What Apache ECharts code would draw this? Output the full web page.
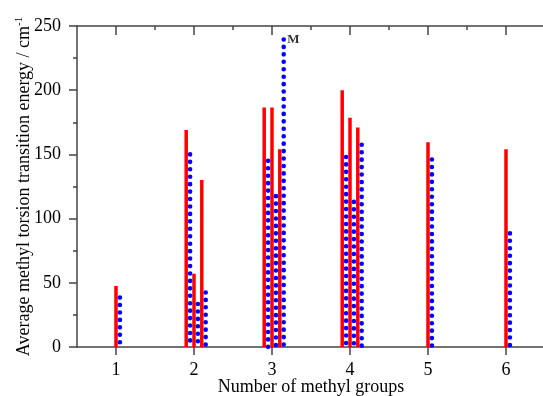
<!DOCTYPE html>
<html>
<head>
<meta charset="utf-8">
<script src="https://cdn.jsdelivr.net/npm/echarts@6/dist/echarts.min.js"></script>
<style>
  html, body { margin: 0; padding: 0; background: #fff; }
  #chart { width: 543px; height: 396px; }
</style>
</head>
<body>
<div id="chart"></div>
<script>
// red = solid sticks, blue = dotted sticks
const redX = [1.0, 1.9, 2.0, 2.1, 2.9, 3.0, 3.1, 3.9, 4.0, 4.1, 5.0, 6.0];
const redY = [47.5, 169, 57, 130, 186.5, 186.5, 154, 200, 178.5, 171, 159.5, 154];
const blueX = [1.05, 1.95, 2.05, 2.15, 2.95, 3.05, 3.15, 3.95, 4.05, 4.15, 5.05, 6.05];
const blueY = [38.5, 150, 33.5, 42.5, 145, 117.5, 239.5, 148, 113, 157.5, 146, 88.5];
const markedIdx = 6; // blue stick labelled "M"
const xTicks = [1, 2, 3, 4, 5, 6];
const xHalfTicks = [1.5, 2.5, 3.5, 4.5, 5.5, 6.5];

const font = 'Liberation Serif';
const axisColor = '#444';

const chart = echarts.init(document.getElementById('chart'));

const series = [];
redX.forEach((x, i) => {
  series.push({
    type: 'line',
    data: [[x, 0], [x, redY[i]]],
    symbol: 'none',
    silent: true,
    lineStyle: { color: '#ff0000', width: 3.5 }
  });
});
blueX.forEach((x, i) => {
  series.push({
    type: 'line',
    data: [[x, blueY[i]], [x, 0]],
    symbol: 'none',
    silent: true,
    lineStyle: { color: '#0000ff', width: 4.6, type: [0.01, 7.43], cap: 'round' }
  });
});
series.push({
  type: 'scatter',
  data: [[blueX[markedIdx], blueY[markedIdx]]],
  symbolSize: 1,
  itemStyle: { color: 'rgba(0,0,0,0)' },
  silent: true,
  label: {
    show: true,
    formatter: 'M',
    position: 'right',
    distance: 3,
    color: '#000',
    fontFamily: font,
    fontWeight: 'bold',
    fontSize: 13
  }
});

const option = {
  animation: false,
  backgroundColor: '#fff',
  grid: { left: 77, right: -2, top: 26, bottom: 49, containLabel: false, outerBoundsMode: 'none' },
  xAxis: [
    {
      type: 'value',
      min: 0.5,
      max: 6.5,
      position: 'bottom',
      name: 'Number of methyl groups',
      nameLocation: 'middle',
      nameGap: 31,
      nameMoveOverlap: false,
      nameTextStyle: { fontFamily: font, fontSize: 18, color: '#000' },
      axisLine: { show: true, lineStyle: { color: axisColor, width: 1.5 } },
      axisTick: { show: true, inside: false, length: 8, customValues: xTicks, lineStyle: { color: axisColor, width: 1.5 } },
      axisLabel: { customValues: xTicks, margin: 14, fontFamily: font, fontSize: 18, color: '#000' },
      splitLine: { show: false }
    },
    {
      type: 'value',
      min: 0.5,
      max: 6.5,
      position: 'top',
      axisLine: { show: true, lineStyle: { color: axisColor, width: 1.5 } },
      axisTick: { show: true, inside: true, length: 9, customValues: xTicks, lineStyle: { color: axisColor, width: 1.5 } },
      axisLabel: { show: false },
      splitLine: { show: false }
    },
    {
      type: 'value',
      min: 0.5,
      max: 6.5,
      position: 'top',
      axisLine: { show: false },
      axisTick: { show: true, inside: true, length: 4, customValues: xHalfTicks, lineStyle: { color: axisColor, width: 1.5 } },
      axisLabel: { show: false },
      splitLine: { show: false }
    }
  ],
  yAxis: {
    type: 'value',
    min: 0,
    max: 250,
    interval: 50,
    name: 'Average methyl torsion transition energy / cm{sup|-1}',
    nameLocation: 'middle',
    nameGap: 43,
    nameMoveOverlap: false,
    nameTextStyle: {
      fontFamily: font,
      fontSize: 18,
      color: '#000',
      rich: { sup: { fontFamily: font, fontSize: 11, color: '#000', verticalAlign: 'top', padding: [0, 0, 9, 0] } }
    },
    axisLine: { show: true, lineStyle: { color: axisColor, width: 1.5 } },
    axisTick: { show: true, inside: false, length: 8, lineStyle: { color: axisColor, width: 1.5 } },
    minorTick: { show: true, splitNumber: 2, length: 4, lineStyle: { color: axisColor, width: 1.5 } },
    axisLabel: { margin: 16, fontFamily: font, fontSize: 18, color: '#000' },
    splitLine: { show: false }
  },
  series: series
};

chart.setOption(option);
</script>
</body>
</html>
